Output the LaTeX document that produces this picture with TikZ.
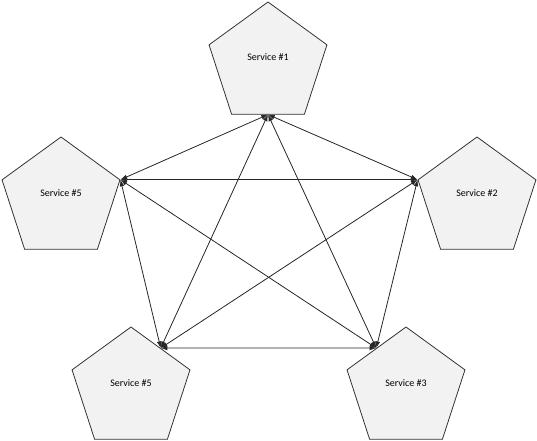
\documentclass[tikz,border=0pt]{standalone}
\usepackage{fontspec}
\setmainfont{Carlito}
\usetikzlibrary{shapes.geometric,arrows.meta}
\begin{document}
\begin{tikzpicture}[x=0.75pt,y=-0.75pt,
  svc/.style={regular polygon,regular polygon sides=5,draw=black!80,fill=black!5,line width=0.6pt,inner sep=0pt,minimum size=93pt},
  lbl/.style={font=\fontsize{7.5}{9}\selectfont,inner sep=0pt},
  conn/.style={draw=black!85,line width=0.6pt,{Latex[length=5pt,width=3.5pt]}-{Latex[length=5pt,width=3.5pt]}}]
\useasboundingbox (0,0) rectangle (537,441);
\node[svc] (s1) at (268,64) {};
\node[svc] (s2) at (477,199) {};
\node[svc] (s3) at (406,389) {};
\node[svc] (s4) at (131,389) {};
\node[svc] (s5) at (61,199) {};
\node[lbl] (t1) at (268,57) {Service \#1};
\node[lbl] (t2) at (477,193) {Service \#2};
\node[lbl] (t3) at (406,383) {Service \#3};
\node[lbl] (t4) at (131,383) {Service \#5};
\node[lbl] (t5) at (61,193) {Service \#5};
\coordinate (p1) at (s1.side 3);
\coordinate (p2) at (s2.corner 2);
\coordinate (p3) at (s3.side 1);
\coordinate (p4) at (s4.side 5);
\coordinate (p5) at (s5.corner 5);
\draw[conn] (p1) -- (p2);
\draw[conn] (p1) -- (p3);
\draw[conn] (p1) -- (p4);
\draw[conn] (p1) -- (p5);
\draw[conn] (p2) -- (p3);
\draw[conn] (p2) -- (p4);
\draw[conn] (p2) -- (p5);
\draw[conn] (p3) -- (p4);
\draw[conn] (p3) -- (p5);
\draw[conn] (p4) -- (p5);
\end{tikzpicture}
\end{document}
